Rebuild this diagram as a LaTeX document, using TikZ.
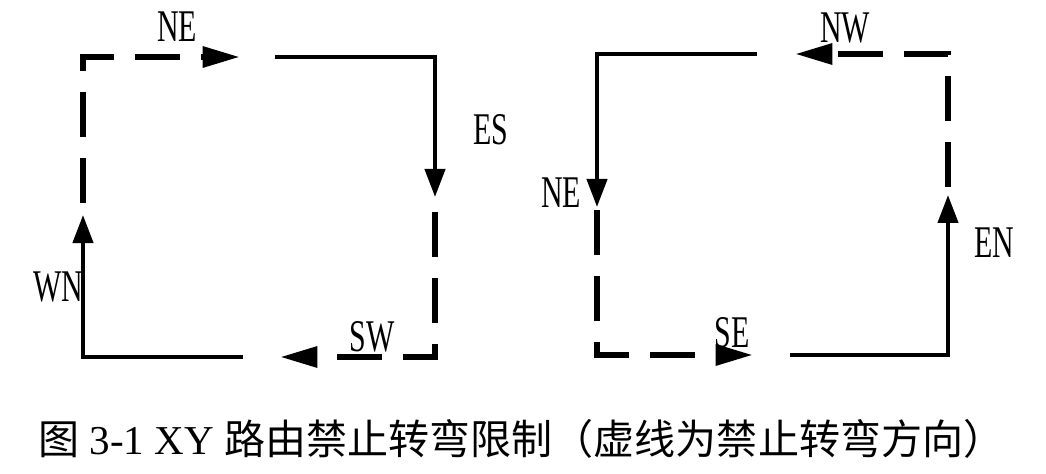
\documentclass[tikz,border=0pt]{standalone}
\usepackage{fontspec}
\setmainfont{Liberation Serif}
\newfontfamily\cjk{Noto Sans CJK SC}
\usetikzlibrary{arrows.meta}
\tikzset{
  turnOk/.style={line width=3.2pt, -{Triangle[length=21pt,width=15pt]}},
  turnNo/.style={line width=4.6pt, dash pattern=on 33.5pt off 16pt,
    -{Triangle[length=28pt,width=15pt]}},
  dir/.style={font=\fontsize{34}{34}\selectfont, xscale=0.66, inner sep=0pt},
  captext/.style={font=\fontsize{30.8}{31}\selectfont, inner sep=0pt},
}

\begin{document}
\begin{tikzpicture}[x=0.75pt, y=-0.75pt]
\useasboundingbox (0,0) rectangle (1046,474);

% ── left loop: corners and free ends ────────────────────────────────────────
\coordinate (Ltl) at (83,57);
\coordinate (Ltr) at (435,57);
\coordinate (Lbr) at (435,357);
\coordinate (Lbl) at (83,357);
\coordinate (wnA) at (243,357);  \coordinate (wnB) at (83,215);
\coordinate (neA) at (83,203);   \coordinate (neB) at (240,57);
\coordinate (esA) at (275,57);   \coordinate (esB) at (435,197);
\coordinate (swA) at (435,212);  \coordinate (swB) at (280,357);

\draw[turnOk] (wnA) -- (Lbl) -- (wnB);
\draw[turnNo] (neA) -- (Ltl) -- (neB);
\draw[turnOk] (esA) -- (Ltr) -- (esB);
\draw[turnNo] (swA) -- (Lbr) -- (swB);

\node[dir] (lNE) at (177,27)  {NE};
\node[dir] (lES) at (491,130) {ES};
\node[dir] (lWN) at (58,287)  {WN};
\node[dir] (lSW) at (372,337) {SW};

% ── right loop ──────────────────────────────────────────────────────────────
\coordinate (Rtl) at (597,54);
\coordinate (Rtr) at (948,54);
\coordinate (Rbr) at (948,355);
\coordinate (Rbl) at (597,355);
\coordinate (wsA) at (757,54);   \coordinate (wsB) at (597,207);
\coordinate (seA) at (597,210);  \coordinate (seB) at (753,355);
\coordinate (enA) at (790,355);  \coordinate (enB) at (948,195);
\coordinate (nwA) at (948,187);  \coordinate (nwB) at (795,54);

\draw[turnOk] (wsA) -- (Rtl) -- (wsB);
\draw[turnNo] (seA) -- (Rbl) -- (seB);
\draw[turnOk] (enA) -- (Rbr) -- (enB);
\draw[turnNo] (nwA) -- (Rtr) -- (nwB);

\node[dir] (rNW) at (845,28)  {NW};
\node[dir] (rNE) at (561,193) {NE};
\node[dir] (rEN) at (994,243) {EN};
\node[dir] (rSE) at (732,333) {SE};

% ── caption ─────────────────────────────────────────────────────────────────
\node[captext, anchor=west] (caption) at (38,439)
  {{\cjk 图} 3-1 XY {\cjk 路由禁止转弯限制（虚线为禁止转弯方向）}};

\end{tikzpicture}
\end{document}
